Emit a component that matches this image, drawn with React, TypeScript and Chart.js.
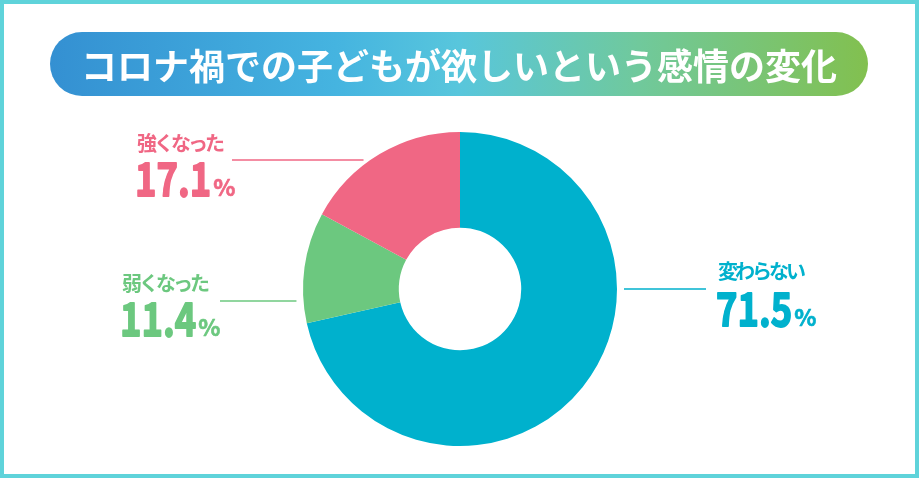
import { useEffect, useRef } from "react";
import Chart from "chart.js/auto";

const title = "コロナ禍での子どもが欲しいという感情の変化";
const categories = ["変わらない", "弱くなった", "強くなった"];
const values = [71.5, 11.4, 17.1];
const colors = ["#00b1cd", "#6cc87f", "#f06784"];

// label placement (same order as categories)
const labelSpots = [
  { x: 718, nameY: 279, numY: 326, lineY: 289, side: "right", lineEnd: 706 },
  { x: 122, nameY: 291, numY: 336, lineY: 301, side: "left", lineEnd: 220 },
  { x: 137, nameY: 151, numY: 196, lineY: 160, side: "left", lineEnd: 232 },
];

const FONT = '"Noto Sans CJK JP", "Noto Sans", sans-serif';
const NUM_SQUEEZE = 0.79;

const labelPlugin = {
  id: "sideLabels",
  afterDatasetsDraw(chart: any) {
    const ctx = chart.ctx as CanvasRenderingContext2D;
    const arcs = chart.getDatasetMeta(0).data;
    ctx.save();
    arcs.forEach((arc: any, i: number) => {
      const spot = labelSpots[i];
      const { x: cx, y: cy, outerRadius } = arc.getProps(["x", "y", "outerRadius"], true);
      const dy = spot.lineY - cy;
      const dx = Math.sqrt(Math.max(outerRadius * outerRadius - dy * dy, 0));
      const gap = 7;
      ctx.strokeStyle = colors[i];
      ctx.lineWidth = 1.5;
      ctx.beginPath();
      if (spot.side === "left") {
        ctx.moveTo(spot.lineEnd, spot.lineY);
        ctx.lineTo(cx - dx - gap, spot.lineY);
      } else {
        ctx.moveTo(cx + dx + gap, spot.lineY);
        ctx.lineTo(spot.lineEnd, spot.lineY);
      }
      ctx.stroke();

      ctx.fillStyle = colors[i];
      ctx.textAlign = "left";
      ctx.textBaseline = "alphabetic";
      ctx.lineJoin = "round";
      (ctx as any).letterSpacing = "-3px";
      ctx.font = `bold 20px ${FONT}`;
      ctx.fillText(categories[i], spot.x, spot.nameY);

      // big number, squeezed to match the narrow digits
      (ctx as any).letterSpacing = "0px";
      ctx.font = `bold 46px ${FONT}`;
      const num = values[i].toFixed(1);
      const w = ctx.measureText(num).width * NUM_SQUEEZE;
      ctx.save();
      ctx.translate(spot.x - 2, spot.numY);
      ctx.scale(NUM_SQUEEZE, 1);
      ctx.lineWidth = 1.8;
      ctx.fillText(num, 0, 0);
      ctx.strokeText(num, 0, 0);
      ctx.restore();

      ctx.font = `bold 23px ${FONT}`;
      ctx.lineWidth = 0.6;
      ctx.fillText("%", spot.x + w, spot.numY);
      ctx.strokeText("%", spot.x + w, spot.numY);
    });
    ctx.restore();
  },
};

const App = () => {
  const chartRef = useRef<HTMLCanvasElement>(null);

  useEffect(() => {
    const myChart = new Chart(chartRef.current!, {
      type: "doughnut",
      data: {
        labels: categories,
        datasets: [
          {
            data: values,
            backgroundColor: colors,
            borderWidth: 0,
          },
        ],
      },
      options: {
        animation: false,
        responsive: false,
        cutout: "39%",
        layout: { padding: { top: 132, bottom: 32, left: 303, right: 303 } },
        plugins: {
          legend: { display: false },
          tooltip: { enabled: false },
        },
      },
      plugins: [labelPlugin],
    });

    return () => myChart.destroy();
  }, []);

  return (
    <div
      style={{
        position: "absolute",
        left: 0,
        top: 0,
        width: 920,
        height: 478,
        background: "#fff",
        fontFamily: FONT,
      }}
    >
      <canvas ref={chartRef} width={920} height={478} style={{ position: "absolute", left: 0, top: 0 }}></canvas>
      <div
        style={{
          position: "absolute",
          left: 50,
          top: 32,
          width: 818,
          height: 64,
          borderRadius: 32,
          background: "linear-gradient(90deg, #3490d2 0%, #45b4e0 35%, #58c6dc 50%, #70c99c 72%, #82c04f 100%)",
          color: "#fff",
          fontSize: 36,
          fontWeight: 700,
          lineHeight: "64px",
          textAlign: "center",
          whiteSpace: "nowrap",
        }}
      >
        {title}
      </div>
      <div
        style={{
          position: "absolute",
          left: 0,
          top: 0,
          width: 919,
          height: 478,
          boxSizing: "border-box",
          border: "4px solid #5fd3da",
          pointerEvents: "none",
        }}
      ></div>
    </div>
  );
};

export default App;
